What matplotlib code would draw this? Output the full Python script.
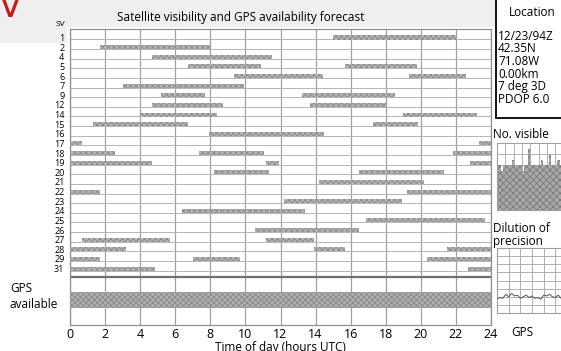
import matplotlib
matplotlib.use('Agg')
import matplotlib.pyplot as plt
from matplotlib.patches import Rectangle

plt.rcParams['font.family'] = ['Open Sans', 'DejaVu Sans']
plt.rcParams['hatch.linewidth'] = 0.6

# satellites listed on the left, top to bottom
sv_numbers = [1, 2, 4, 5, 6, 7, 9, 12, 14, 15, 16, 17, 18, 19, 20, 21, 22, 23, 24, 25, 26, 27, 28, 29, 31]

# visibility passes (hours UTC)
pass_sv = [1, 2, 4, 5, 5, 6, 6, 7, 9, 9, 12, 12, 14, 14, 15, 15, 16, 17, 17,
           18, 18, 18, 19, 19, 19, 20, 20, 21, 22, 22, 23, 24, 25, 26, 27, 27,
           28, 28, 28, 29, 29, 29, 31, 31]
pass_start = [15.0, 1.7, 4.7, 6.7, 15.7, 9.35, 19.3, 3.0, 5.2, 13.2, 4.7, 13.7, 4.05, 19.0, 1.3, 17.3, 7.9, 0.0, 23.3,
              0.0, 7.35, 21.85, 0.0, 11.2, 22.8, 8.2, 16.5, 14.2, 0.0, 19.2, 12.2, 6.4, 16.9, 10.55, 0.7, 11.2,
              0.0, 13.9, 21.5, 0.0, 7.0, 20.35, 0.0, 22.7]
pass_end = [22.0, 8.0, 11.5, 10.9, 19.8, 14.4, 22.6, 9.9, 7.7, 18.5, 8.7, 18.0, 8.4, 23.2, 6.7, 19.85, 14.5, 0.7, 24.0,
            2.55, 11.05, 24.0, 4.7, 11.9, 24.0, 11.35, 21.3, 20.2, 1.7, 24.0, 18.9, 13.4, 23.65, 16.5, 5.7, 13.9,
            3.2, 15.7, 24.0, 1.7, 9.7, 24.0, 4.85, 24.0]

# GPS availability periods
gps_start = [0.0]
gps_end = [24.0]

# small side charts (only the left part is visible)
visible_time = [0, 0.25, 0.5, 0.75, 1, 1.25, 1.5, 1.75, 2, 2.25, 2.5, 2.75, 3, 3.25, 3.5, 3.75,
                4, 4.25, 4.5, 4.75, 5, 5.25, 5.5, 5.75, 6, 6.25, 6.5, 6.75, 7, 7.25, 7.5, 7.75, 8]
visible_count = [8, 8, 7, 8, 8, 8, 8, 9, 8, 8, 8, 8, 7, 8, 8, 11, 8, 8, 8, 8, 8, 9,
                 8, 8, 8, 10, 8, 8, 8, 9, 8, 8, 8]
dop_time = [0, 0.25, 0.5, 0.75, 1, 1.25, 1.5, 1.75, 2, 2.25, 2.5, 2.75, 3, 3.25, 3.5, 3.75,
            4, 4.25, 4.5, 4.75, 5, 5.25, 5.5, 5.75, 6]
dop_value = [1.7, 1.9, 1.8, 2.3, 2.0, 2.4, 2.1, 2.2, 1.8, 2.0, 2.2, 1.9, 2.1, 1.8, 1.9, 1.7,
             2.2, 2.1, 2.3, 2.0, 1.9, 2.2, 1.8, 2.1, 2.0]

W, H = 561, 351


def fx(px):
    return px / W


def fy(py):
    return 1 - py / H


fig = plt.figure(figsize=(W / 100, H / 100), dpi=100)

# light grey header strip (behind everything)
fig.patches.append(Rectangle((0, fy(27)), fx(496), 27 / H, transform=fig.transFigure,
                             facecolor='#efefef', edgecolor='none', zorder=-5))
fig.patches.append(Rectangle((0, fy(43)), fx(67), 43 / H, transform=fig.transFigure,
                             facecolor='#efefef', edgecolor='none', zorder=-5))

# main chart, rows in data units (row i centred on y=i)
row_px = 9.63
y_top = (29 - 37.5) / row_px
y_bot = (325 - 37.5) / row_px
ax = fig.add_axes([fx(70), fy(325), fx(491 - 70), (325 - 29) / H])
ax.set_xlim(0, 24)
ax.set_ylim(y_bot, y_top)

row_of = {s: i for i, s in enumerate(sv_numbers)}
bar_h = 0.42
for s, a, b in zip(pass_sv, pass_start, pass_end):
    ax.broken_barh([(a, b - a)], (row_of[s] - bar_h / 2, bar_h), facecolors='#b4b4b4',
                   edgecolor='#8a8a8a', hatch='xxxxxx', linewidth=0, zorder=3)

# GPS available band
gps_top = (291.7 - 37.5) / row_px
gps_bot = (308.3 - 37.5) / row_px
for a, b in zip(gps_start, gps_end):
    ax.broken_barh([(a, b - a)], (gps_top, gps_bot - gps_top), facecolors='#b0b0b0',
                   edgecolor='#888888', hatch='xxxxxx', linewidth=0, zorder=3)

# grid
for x in range(0, 25, 2):
    ax.axvline(x, color='#a0a0a0', linewidth=0.9, zorder=1)
for i in range(len(sv_numbers)):
    ax.axhline(i + 0.2, color='#b5b5b5', linewidth=0.7, zorder=1)
ax.axhline((276.7 - 37.5) / row_px, color='#707070', linewidth=1.6, zorder=2)

for sp in ax.spines.values():
    sp.set_color('#909090')
    sp.set_linewidth(0.9)

ax.set_yticks(range(len(sv_numbers)))
ax.set_yticklabels([str(s) for s in sv_numbers], fontsize=6.5)
ax.tick_params(axis='y', length=0, pad=4)
ax.set_xticks(range(0, 25, 2))
ax.tick_params(axis='x', length=0, pad=2, labelsize=9)
ax.set_xlabel('Time of day (hours UTC)', fontsize=8.5, labelpad=0)

fig.text(fx(241), fy(17), 'Satellite visibility and GPS availability forecast',
         fontsize=8.5, ha='center', va='center')
fig.text(fx(60), fy(24), 'SV', fontsize=6, ha='center', va='center')
fig.text(fx(10), fy(288), 'GPS', fontsize=8.5, ha='left', va='center')
fig.text(fx(10), fy(304), 'available', fontsize=8.5, ha='left', va='center')

# red corner mark, cut by the top edge as in the scan
fig.text(fx(10), fy(17), 'V', fontsize=24, color='#d01515',
         ha='center', va='baseline', family='DejaVu Sans')

# location box
fig.patches.append(Rectangle((fx(496), fy(118)), fx(80), 125 / H, transform=fig.transFigure,
                             facecolor='white', edgecolor='black', linewidth=1.3, zorder=2))
fig.text(fx(509), fy(12), 'Location', fontsize=8.5, ha='left', va='center')
loc_lines = ['12/23/94Z', '42.35N', '71.08W', '0.00km', '7 deg 3D', 'PDOP 6.0']
for k, t in enumerate(loc_lines):
    fig.text(fx(498), fy(36 + 12.7 * k), t, fontsize=8.5, ha='left', va='center')

# number visible chart
fig.text(fx(493), fy(135), 'No. visible', fontsize=8.5, ha='left', va='center')
axv = fig.add_axes([fx(497), fy(210), fx(200), 67 / H])
axv.set_xlim(0, 24)
axv.set_ylim(0, 12)
axv.fill_between(visible_time, visible_count, step='post', facecolor='#a8a8a8',
                 edgecolor='#7a7a7a', hatch='xxxxx', linewidth=0, zorder=2)
for x in range(0, 25):
    axv.axvline(x, color='#b0b0b0', linewidth=0.7, zorder=1)
for y in range(0, 13, 2):
    axv.axhline(y, color='#b0b0b0', linewidth=0.7, zorder=1)
axv.set_xticks([])
axv.set_yticks([])
for sp in axv.spines.values():
    sp.set_color('#a0a0a0')

# dilution of precision chart
fig.text(fx(493), fy(229), 'Dilution of', fontsize=8.5, ha='left', va='center')
fig.text(fx(493), fy(241), 'precision', fontsize=8.5, ha='left', va='center')
axd = fig.add_axes([fx(497), fy(313), fx(280), 65 / H])
axd.set_xlim(0, 24)
axd.set_ylim(0, 8)
for x in range(0, 25):
    axd.axvline(x, color='#b0b0b0', linewidth=0.7, zorder=1)
for y in range(0, 9):
    axd.axhline(y, color='#b0b0b0', linewidth=0.7, zorder=1)
axd.plot(dop_time, dop_value, color='#555555', linewidth=0.7, zorder=2)
axd.set_xticks([])
axd.set_yticks([])
for sp in axd.spines.values():
    sp.set_color('#a0a0a0')

fig.text(fx(522), fy(332), 'GPS', fontsize=8.5, ha='center', va='center')

fig.savefig('out.png', dpi=100)
